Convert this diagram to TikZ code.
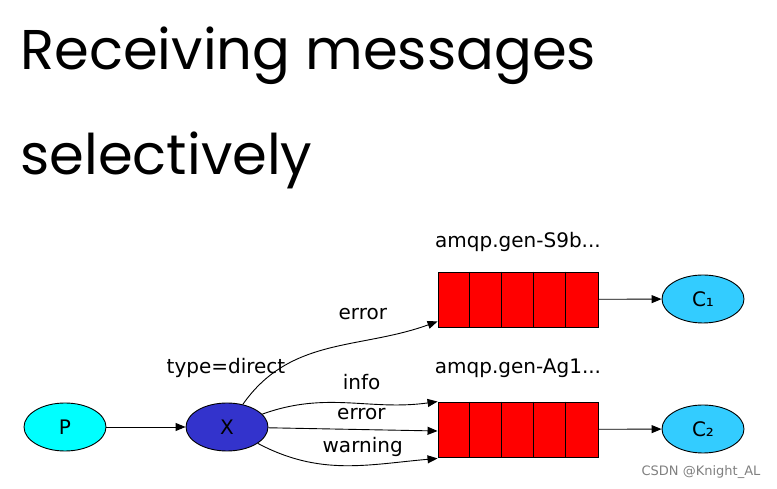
\documentclass[tikz,border=0pt]{standalone}
\usepackage{fontspec}
\setmainfont{DejaVu Sans}
\newfontfamily\titlefont{Poppins}
\usetikzlibrary{shapes.geometric, arrows.meta}
\definecolor{pcyan}{RGB}{0,255,255}
\definecolor{xblue}{RGB}{51,51,204}
\definecolor{cblue}{RGB}{51,204,255}
\begin{document}
\begin{tikzpicture}[>={Triangle[length=10pt, width=8pt]}, x=1pt, y=1pt, line width=0.9pt,
    every node/.style={font=\fontsize{20}{22}\selectfont},
    title/.style={anchor=base west, inner sep=0, font=\titlefont\fontsize{56}{60}\selectfont},
    peer/.style={draw, ellipse, minimum width=82pt, minimum height=48pt, inner sep=0},
    queue/.style={draw, fill=red, minimum width=160pt, minimum height=55pt, inner sep=0},
    lbl/.style={inner sep=1pt}]
    \useasboundingbox (0,0) rectangle (777,489);

    % Title
    \node[title] (t1) at (20,419) {Receiving messages};
    \node[title] (t2) at (20,314) {selectively};

    % Producer, exchange, queues, consumers
    \node[peer, fill=pcyan] (P) at (65,62) {P};
    \node[peer, fill=xblue] (X) at (227,62) {X};
    \node[queue] (q1) at (518,189.5) {};
    \node[queue] (q2) at (518,59.5) {};
    \node[peer, fill=cblue] (C1) at (703,190) {C₁};
    \node[peer, fill=cblue] (C2) at (703,60) {C₂};
    \foreach \q in {q1,q2}
        \foreach \i in {1,...,4}
            \draw (\q.north west) ++(\i*32,0) -- ++(0,-55);

    % Names above
    \node[lbl] (n1) at (518,247) {amqp.gen-S9b...};
    \node[lbl] (n2) at (518,121) {amqp.gen-Ag1...};
    \node[lbl] (tx) at (226,121) {type=direct};

    % Bindings
    \draw[->] (P) -- (X);
    \draw[->] (X) to[out=55, in=200] node[pos=0.55, above=22pt, xshift=24pt] {error} ([yshift=6pt]q1.south west);
    \draw[->] (X) to[out=20, in=188] node[pos=0.5, above=9pt, xshift=13pt] {info} (q2.north west);
    \draw[->] (X) -- node[pos=0.55, above=6pt] {error} ([yshift=-1.5pt]q2.west);
    \draw[->] (X) to[out=-28, in=185] node[pos=0.5, above=5pt, xshift=18pt] {warning} ([yshift=-1pt]q2.south west);
    \draw[->] (q1) -- (C1);
    \draw[->] (q2) -- (C2);

    % Watermark
    \node[text=gray, font=\fontsize{13}{14}\selectfont] (wm) at (701,17) {CSDN @Knight\_AL};
\end{tikzpicture}
\end{document}
